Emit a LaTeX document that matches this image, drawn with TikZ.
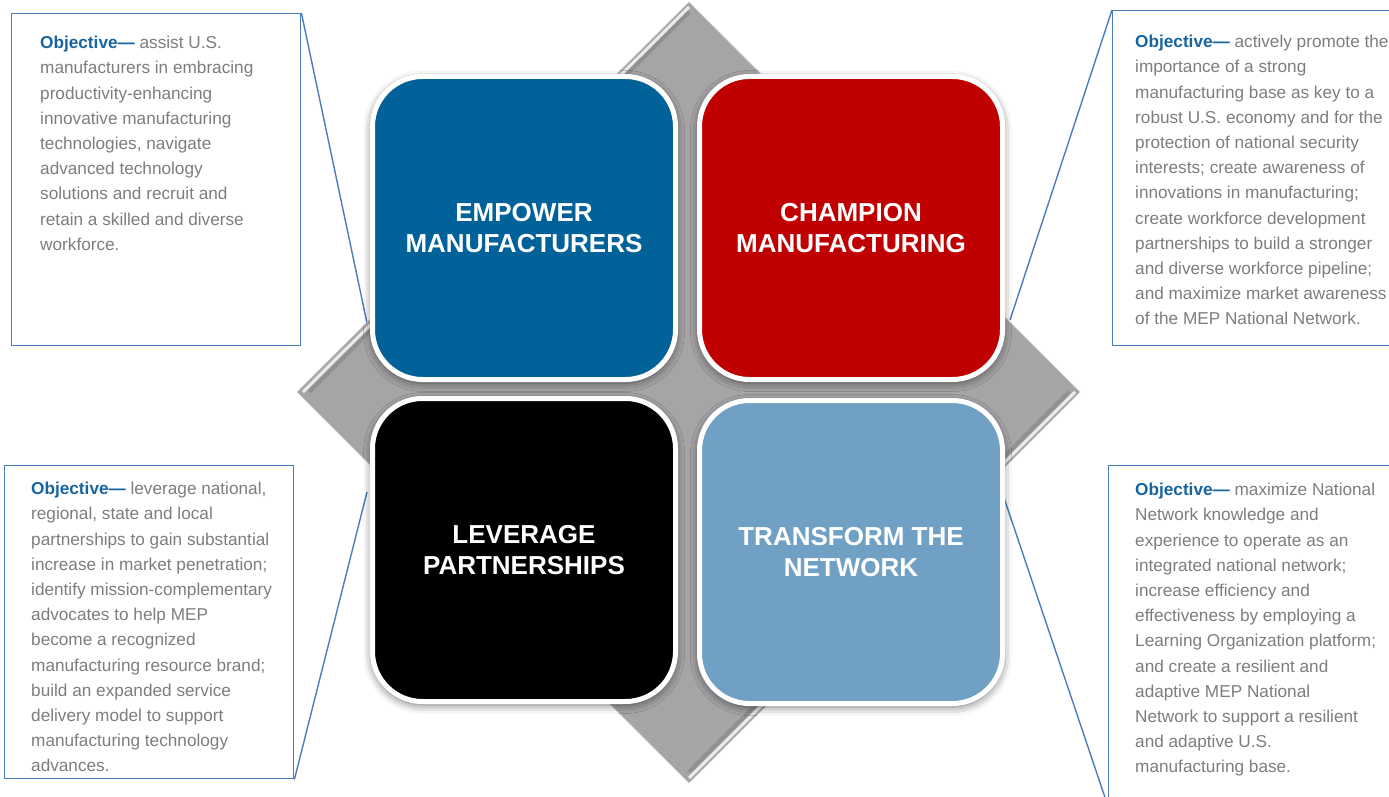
\documentclass[tikz,border=0pt]{standalone}
\usepackage{fontspec}
\setmainfont{Liberation Sans}
\usetikzlibrary{shadows.blur}
\definecolor{mblue}{RGB}{0,98,153}
\definecolor{mred}{RGB}{192,0,0}
\definecolor{mlight}{RGB}{112,160,196}
\definecolor{frameblue}{RGB}{74,124,190}
\definecolor{objblue}{RGB}{23,100,160}
\definecolor{txtgray}{RGB}{125,125,125}
\definecolor{dgray}{RGB}{166,164,167}
\begin{document}
\begin{tikzpicture}[x=1pt,y=-1pt,
  pillar/.style={draw=white, line width=5pt, rounded corners=50pt,
    minimum width=303pt, minimum height=303pt, inner sep=0pt, text=white,
    font=\fontsize{26}{31}\selectfont\bfseries, align=center,
    blur shadow={shadow xshift=0pt, shadow yshift=-3pt, shadow blur radius=9pt, shadow opacity=60}},
  objframe/.style={draw=frameblue, line width=1.4pt, inner sep=0pt, anchor=north west},
  objtext/.style={anchor=north west, inner sep=0pt, align=left, text=txtgray,
    font=\fontsize{17.2}{25.2}\selectfont},
  callout/.style={draw=frameblue, line width=1.4pt},
  hilite/.style={white, opacity=0.8, line width=3pt},
  shade/.style={black, opacity=0.12, line width=4pt}]
\useasboundingbox (0,0) rectangle (1389,797);
\newcommand{\objhead}{\textcolor{objblue}{\bfseries Objective—}}

% objective frames
\node[objframe, minimum width=289pt, minimum height=332pt] (tlbox) at (11,13) {};
\node[objframe, minimum width=290pt, minimum height=335pt] (trbox) at (1112,10) {};
\node[objframe, minimum width=289pt, minimum height=313pt] (blbox) at (4,465) {};
\node[objframe, minimum width=290pt, minimum height=340pt] (brbox) at (1108,465) {};

% callout end points
\coordinate (tlend) at (367,323);
\coordinate (trend) at (1010,320);
\coordinate (blend) at (367,492);
\coordinate (brend) at (999,483);

\draw[callout] (tlbox.north east) -- (tlend);
\draw[callout] (trbox.north west) -- (trend);
\draw[callout] (blbox.south east) -- (blend);
\draw[callout] (brbox.south west) -- (brend);

% diamond
\fill[dgray] (689,2) -- (1080,392) -- (689,783) -- (297,392) -- cycle;
\draw[shade] (309,392) -- (689,12);
\draw[shade] (1069,392) -- (689,772);
\draw[hilite] (303,392) -- (689,7);
\draw[hilite] (1075,392) -- (689,778);
\draw[gray!35, line width=0.6pt] (689,2) -- (1080,392) -- (689,783) -- (297,392) -- cycle;

% pillars
\node[pillar, fill=mblue] (empower) at (524,228) {EMPOWER\\MANUFACTURERS};
\node[pillar, fill=mred] (champion) at (851,228) {CHAMPION\\MANUFACTURING};
\node[pillar, fill=black] (leverage) at (524,550) {LEVERAGE\\PARTNERSHIPS};
\node[pillar, fill=mlight] (transform) at (851,552) {TRANSFORM THE\\NETWORK};

% objective texts
\node[objtext] (tltext) at (40,36) {\objhead{} assist U.S.\\
manufacturers in embracing\\
productivity-enhancing\\
innovative manufacturing\\
technologies, navigate\\
advanced technology\\
solutions and recruit and\\
retain a skilled and diverse\\
workforce.};

\node[objtext] (trtext) at (1135,35) {\objhead{} actively promote the\\
importance of a strong\\
manufacturing base as key to a\\
robust U.S. economy and for the\\
protection of national security\\
interests; create awareness of\\
innovations in manufacturing;\\
create workforce development\\
partnerships to build a stronger\\
and diverse workforce pipeline;\\
and maximize market awareness\\
of the MEP National Network.};

\node[objtext] (bltext) at (31,482) {\objhead{} leverage national,\\
regional, state and local\\
partnerships to gain substantial\\
increase in market penetration;\\
identify mission-complementary\\
advocates to help MEP\\
become a recognized\\
manufacturing resource brand;\\
build an expanded service\\
delivery model to support\\
manufacturing technology\\
advances.};

\node[objtext] (brtext) at (1135,483) {\objhead{} maximize National\\
Network knowledge and\\
experience to operate as an\\
integrated national network;\\
increase efficiency and\\
effectiveness by employing a\\
Learning Organization platform;\\
and create a resilient and\\
adaptive MEP National\\
Network to support a resilient\\
and adaptive U.S.\\
manufacturing base.};
\end{tikzpicture}
\end{document}
